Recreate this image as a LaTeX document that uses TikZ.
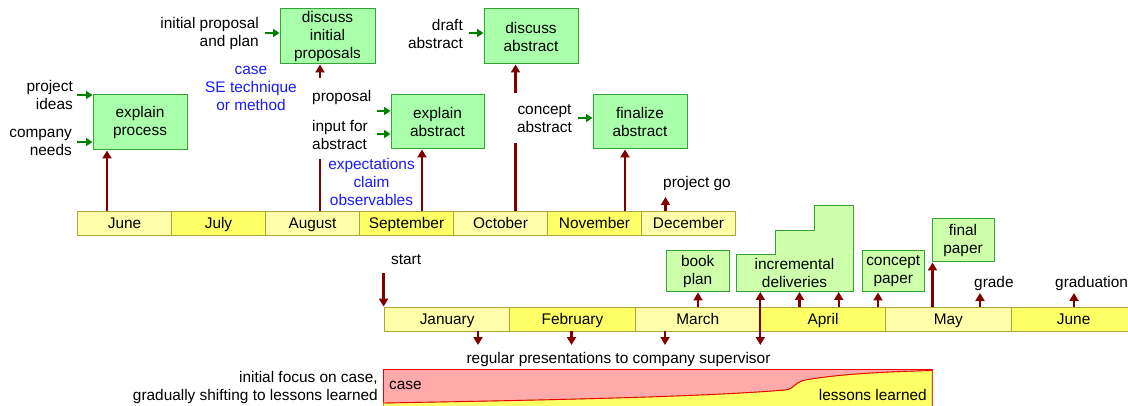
\documentclass[tikz,border=0pt]{standalone}
\usepackage{fontspec}
\setmainfont{Liberation Sans}
\usetikzlibrary{arrows.meta}
\definecolor{boxfill}{RGB}{170,255,170}
\definecolor{boxfillL}{RGB}{206,255,170}
\definecolor{boxline}{RGB}{51,165,51}
\definecolor{monA}{RGB}{255,255,170}
\definecolor{monB}{RGB}{255,255,102}
\definecolor{monline}{RGB}{170,165,60}
\definecolor{darr}{RGB}{128,0,0}
\definecolor{garr}{RGB}{0,128,0}
\definecolor{bluetxt}{RGB}{25,25,255}
\definecolor{casefill}{RGB}{255,170,170}
\definecolor{caseline}{RGB}{240,0,0}
\begin{document}
\begin{tikzpicture}[x=1pt,y=-1pt,
  every node/.style={font=\fontsize{15.4}{18}\selectfont, inner sep=0pt},
  month/.style={draw=monline, line width=0.8pt, minimum height=24pt, text height=12.5pt, text depth=0.5pt},
  umon/.style={month, minimum width=94pt},
  lmon/.style={month, minimum width=125.3pt},
  gbox/.style={draw=boxline, fill=boxfill, line width=1pt, align=center},
  lbox/.style={gbox, fill=boxfillL},
  darrow/.style={draw=darr, line width=2.4pt, -{Triangle[width=9pt,length=8pt]}},
  dline/.style={draw=darr, line width=2.4pt},
  garrow/.style={draw=garr, line width=2pt, -{Triangle[width=8pt,length=6.5pt]}},
  one/.style={text height=13.5pt, text depth=1pt},
  bluelbl/.style={text=bluetxt, align=center}
]
\useasboundingbox (0,0) rectangle (1128,406);
\clip (0,0) rectangle (1128,406);

% ---------- bottom band ----------
\path[fill=casefill, draw=caseline, line width=0.8pt] (383.5,369.5) rectangle (932,420);
\path[fill=monB, draw=monline, line width=0.8pt]
  (383.5,403) .. controls (550,400) and (700,397) .. (785,390)
  .. controls (795,389) and (793,383) .. (805,380)
  .. controls (840,374) and (880,372) .. (932,370.5) -- (932,420) -- (383.5,420) -- cycle;
\draw[caseline, line width=0.9pt]
  (383.5,403) .. controls (550,400) and (700,397) .. (785,390)
  .. controls (795,389) and (793,383) .. (805,380)
  .. controls (840,374) and (880,372) .. (932,370.5);
\node[one, anchor=west] (tcaseb) at (389,383) {case};
\node[one, anchor=east] (tlessons) at (927,394) {lessons learned};
\node[align=right, anchor=east] (tfocus) at (378,387.5) {initial focus on case,\\gradually shifting to lessons learned};

% ---------- upper timeline ----------
\node[umon, fill=monA] (u1) at (124.5,223) {June};
\node[umon, fill=monB] (u2) at (218.5,223) {July};
\node[umon, fill=monA] (u3) at (312.5,223) {August};
\node[umon, fill=monB] (u4) at (406.5,223) {September};
\node[umon, fill=monA] (u5) at (500.5,223) {October};
\node[umon, fill=monB] (u6) at (594.5,223) {November};
\node[umon, fill=monA] (u7) at (688.5,223) {December};

% ---------- lower timeline ----------
\node[lmon, fill=monA] (l1) at (447.15,319) {January};
\node[lmon, fill=monB] (l2) at (572.45,319) {February};
\node[lmon, fill=monA] (l3) at (697.75,319) {March};
\node[lmon, fill=monB] (l4) at (823.05,319) {April};
\node[lmon, fill=monA] (l5) at (948.35,319) {May};
\node[lmon, fill=monB] (l6) at (1073.65,319) {June};

% ---------- upper boxes ----------
\node[gbox, minimum width=94pt, minimum height=55pt] (eproc) at (140,122.5) {explain\\process};
\node[gbox, minimum width=95pt, minimum height=55pt] (dip) at (327.5,36.5) {discuss\\initial\\proposals};
\node[gbox, minimum width=93pt, minimum height=54pt] (eabs) at (437.5,122) {explain\\abstract};
\node[gbox, minimum width=94pt, minimum height=55pt] (dabs) at (531,36.5) {discuss\\abstract};
\node[gbox, minimum width=94pt, minimum height=54pt] (fabs) at (640,122) {finalize\\abstract};

% ---------- lower boxes ----------
\node[lbox, minimum width=62.5pt, minimum height=41pt] (bplan) at (697.75,271.5) {book\\plan};
\node[lbox, minimum width=62.5pt, minimum height=41pt] (cpaper) at (893.25,271.5) {concept\\paper};
\node[lbox, minimum width=62pt, minimum height=43pt] (fpaper) at (963,240.5) {final\\paper};
\path[draw=boxline, fill=boxfillL, line width=1pt]
  (736,292) -- (736,255) -- (775,255) -- (775,231) -- (814,231) -- (814,206) -- (853,206) -- (853,292) -- cycle;
\node[align=center] (idel) at (794.5,272.5) {incremental\\deliveries};
\coordinate (idelb) at (794.5,292);

% ---------- labels ----------
\node[align=right, anchor=east] (tpi) at (73,94.5) {project\\ideas};
\node[align=right, anchor=east] (tcn) at (72,142) {company\\needs};
\node[align=right, anchor=east] (tipp) at (259,34) {initial proposal\\and plan};
\node[one, anchor=west] (tprop) at (312,95) {proposal};
\node[align=left, anchor=west] (tinp) at (312,135) {input for\\abstract};
\node[align=right, anchor=east] (tdraft) at (463,34) {draft\\abstract};
\node[align=center] (tcon) at (544.5,119) {concept\\abstract};
\node[bluelbl] (tcase) at (251,88.5) {case\\SE technique\\or method};
\node[bluelbl] (texp) at (371.5,182) {expectations\\claim\\observables};
\node[one, anchor=west] (tgo) at (663,181) {project go};
\node[one, anchor=west] (tstart) at (391,258) {start};
\node[one, anchor=west] (tgrade) at (974,281.5) {grade};
\node[one, anchor=west] (tgrad) at (1055,281) {graduation};
\node[one] (tpres) at (618.5,357) {regular presentations to company supervisor};

% ---------- green input arrows ----------
\coordinate (g1) at (77,95);
\coordinate (g2) at (77,142);
\coordinate (g3) at (265,33);
\coordinate (g4) at (377,111);
\coordinate (g5) at (377,134);
\coordinate (g6) at (469,33);
\coordinate (g7) at (578,118);
\draw[garrow] (g1) -- (g1 -| eproc.west);
\draw[garrow] (g2) -- (g2 -| eproc.west);
\draw[garrow] (g3) -- (g3 -| dip.west);
\draw[garrow] (g4) -- (g4 -| eabs.west);
\draw[garrow] (g5) -- (g5 -| eabs.west);
\draw[garrow] (g6) -- (g6 -| dabs.west);
\draw[garrow] (g7) -- (g7 -| fabs.west);

% ---------- dark red arrows, upper ----------
\coordinate (a1) at (107,211);
\coordinate (a2) at (320,211);
\coordinate (a2t) at (320,159);
\coordinate (a2u) at (320,78);
\coordinate (a3) at (422,211);
\coordinate (a4) at (515.5,211);
\coordinate (a4t) at (515.5,143);
\coordinate (a4u) at (515.5,93);
\coordinate (a5) at (625,211);
\coordinate (a6) at (665.5,211);
\coordinate (a6t) at (665.5,197);
\draw[darrow] (a1) -- (a1 |- eproc.south);
\draw[dline] (a2) -- (a2t);
\draw[darrow] (a2u) -- (a2u |- dip.south);
\draw[darrow] (a3) -- (a3 |- eabs.south);
\draw[dline] (a4) -- (a4t);
\draw[darrow] (a4u) -- (a4u |- dabs.south);
\draw[darrow] (a5) -- (a5 |- fabs.south);
\draw[darrow] (a6) -- (a6t);

% ---------- dark red arrows, lower ----------
\coordinate (s0) at (383.6,273);
\coordinate (b1) at (698,307);
\coordinate (b2) at (760.3,345);
\coordinate (b3) at (799.5,307);
\coordinate (b4) at (838.7,307);
\coordinate (b5) at (878,307);
\coordinate (b6) at (932.5,307);
\coordinate (b7) at (980,307);
\coordinate (b7t) at (980,293);
\coordinate (b8) at (1074,307);
\coordinate (b8t) at (1074,293);
\coordinate (d1) at (478,331);
\coordinate (d2) at (571.5,331);
\coordinate (d3) at (665,331);
\draw[darrow] (s0) -- (s0 |- l1.north);
\draw[darrow] (b1) -- (b1 |- bplan.south);
\draw[draw=darr, line width=2pt, {Triangle[width=9pt,length=8pt]}-{Triangle[width=9pt,length=8pt]}] (b2) -- (b2 |- idelb);
\draw[darrow] (b3) -- (b3 |- idelb);
\draw[darrow] (b4) -- (b4 |- idelb);
\draw[darrow] (b5) -- (b5 |- cpaper.south);
\draw[darrow] (b6) -- (b6 |- fpaper.south);
\draw[darrow] (b7) -- (b7t);
\draw[darrow] (b8) -- (b8t);
\draw[darrow] (d1) -- +(0,14);
\draw[darrow] (d2) -- +(0,14);
\draw[darrow] (d3) -- +(0,14);
\end{tikzpicture}
\end{document}
